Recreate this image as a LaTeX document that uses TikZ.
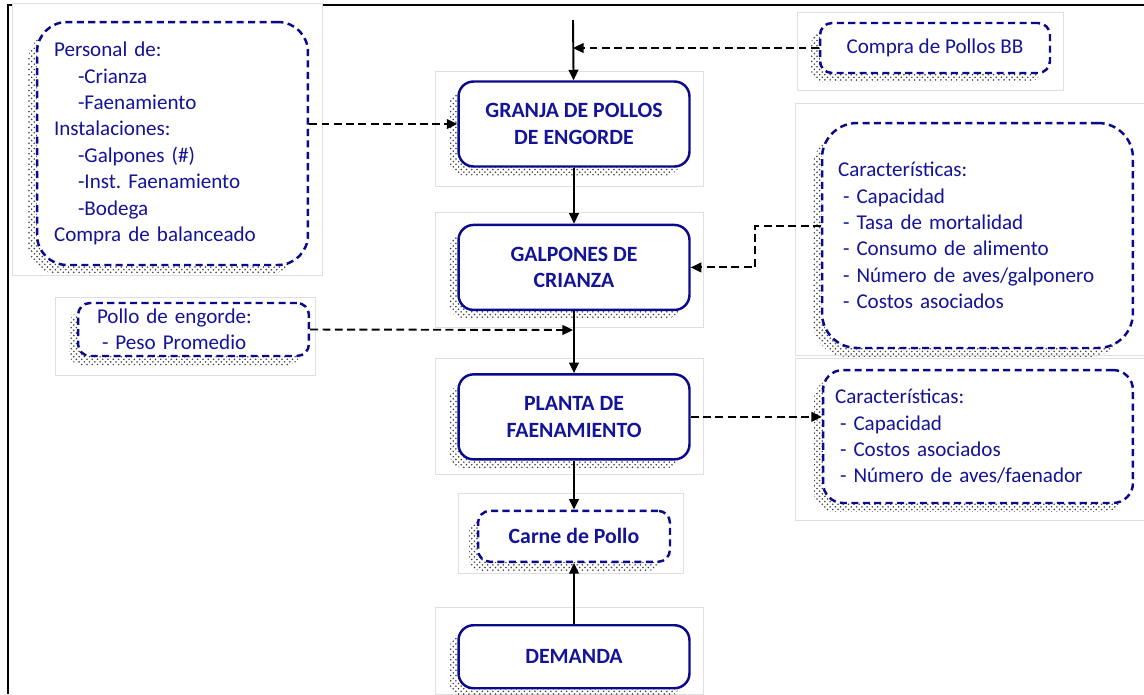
\documentclass[tikz,border=0pt]{standalone}
\usepackage{fontspec}
\setmainfont{Carlito}
\usepackage{tikz}
\usetikzlibrary{positioning,arrows.meta,shadows,patterns}
\definecolor{boxblue}{RGB}{10,10,140}
\definecolor{textblue}{RGB}{20,20,150}
\tikzset{
	diagram/.style={x=0.02cm,y=-0.02cm,>={Triangle[length=6pt,width=5.5pt]},
		line width=1.1pt,font=\fontsize{12}{15}\selectfont},
	stipple/.style={general shadow={shadow xshift=-0.18cm,shadow yshift=-0.18cm,
		pattern=crosshatch dots,pattern color=black!75}},
	process/.style={rectangle,rounded corners=0.3cm,draw=boxblue,line width=1.4pt,
		fill=white,text=textblue,font=\fontsize{12.4}{15}\selectfont\bfseries,
		align=center,minimum width=4.62cm,minimum height=1.7cm,stipple},
	note/.style={rectangle,draw=boxblue,line width=1.4pt,dash pattern=on 4pt off 2.5pt,
		fill=white,text=textblue,align=left,inner ysep=0pt,stipple},
	textframe/.style={draw=gray!25,line width=0.4pt,fill=white},
	link/.style={->,black,line width=1.1pt},
	dashlink/.style={->,black,line width=1.1pt,dash pattern=on 4.5pt off 2.5pt}
}

\begin{document}
\begin{tikzpicture}[diagram]
	\useasboundingbox (0,0) rectangle (1144,694);
	
	% page border
	\draw[line width=1.7pt] (8,694) -- (8,5) -- (1144,5);
	
	% text box frames
	\draw[textframe] (12,3) rectangle (322,275);
	\draw[textframe] (55,297) rectangle (315,375);
	\draw[textframe] (797,12) rectangle (1063,90);
	\draw[textframe] (795,103) rectangle (1144,355);
	\draw[textframe] (795,358) rectangle (1144,520);
	\draw[textframe] (435,71) rectangle (703,186);
	\draw[textframe] (435,212) rectangle (703,327);
	\draw[textframe] (435,358) rectangle (703,474);
	\draw[textframe] (458,493) rectangle (683,573);
	\draw[textframe] (435,607) rectangle (703,694);
	
	% main chain
	\node[process] (granja) at (574,124) {GRANJA DE POLLOS\\DE ENGORDE};
	\node[process] (galpones) [below=1.12cm of granja] {GALPONES DE\\CRIANZA};
	\node[process] (planta) [below=1.24cm of galpones] {PLANTA DE\\FAENAMIENTO};
	\node[note,rounded corners=0.24cm,align=center,font=\fontsize{12.4}{15}\selectfont\bfseries,
		minimum width=3.84cm,minimum height=1.02cm] (carne) [below=0.98cm of planta] {Carne de Pollo};
	\node[process,minimum height=1.26cm] (demanda) [below=1.22cm of carne] {DEMANDA};
	
	% side notes
	\node[note,rounded corners=0.6cm,text width=4.74cm,inner xsep=0.34cm,
		minimum height=4.86cm] (personal) at (172.5,143.5) {Personal de:\\
		\hspace*{0.48cm}-Crianza\\
		\hspace*{0.48cm}-Faenamiento\\
		Instalaciones:\\
		\hspace*{0.48cm}-Galpones (\#)\\
		\hspace*{0.48cm}-Inst.\ Faenamiento\\
		\hspace*{0.48cm}-Bodega\\
		Compra de balanceado};
	\node[note,rounded corners=0.24cm,align=center,minimum width=4.6cm,
		minimum height=1.0cm] (compra) at (935,48) {Compra de Pollos BB};
	\node[note,rounded corners=0.7cm,text width=5.58cm,inner xsep=0.32cm,
		minimum height=4.5cm] (crianza) at (977.5,235.5) {Características:\\
		\hspace*{0.1cm}- Capacidad\\
		\hspace*{0.1cm}- Tasa de mortalidad\\
		\hspace*{0.1cm}- Consumo de alimento\\
		\hspace*{0.1cm}- Número de aves/galponero\\
		\hspace*{0.1cm}- Costos asociados};
	\node[note,rounded corners=0.24cm,text width=3.86cm,inner xsep=0.38cm,
		minimum height=1.06cm] (pollo) at (193.5,329.5) {Pollo de engorde:\\
		\hspace*{0.1cm}- Peso Promedio};
	\node[note,rounded corners=0.4cm,text width=5.72cm,inner xsep=0.24cm,
		minimum height=2.66cm] (faena) at (978,436.5) {Características:\\
		\hspace*{0.1cm}- Capacidad\\
		\hspace*{0.1cm}- Costos asociados\\
		\hspace*{0.1cm}- Número de aves/faenador};
	
	\coordinate (entrada) at (573,20);
	\coordinate (bb) at (573,48);
	\coordinate (peso) at (573,330);
	\coordinate (codo) at (755,226);
	
	\path[link] (entrada) edge (granja);
	\path[link] (granja) edge (galpones);
	\path[link] (galpones) edge (planta);
	\path[link] (planta) edge (carne);
	\path[link] (demanda) edge (carne);
	
	\path[dashlink] (compra.west) edge (bb);
	\path[dashlink] (personal.east |- granja.west) edge (granja.west);
	\path[dashlink] (pollo.east) edge (peso);
	\path[dashlink] (planta.east) edge (planta.east -| faena.west);
	\draw[dashlink] (codo -| crianza.west) -- (codo) |- (galpones.east);
\end{tikzpicture}
\end{document}
